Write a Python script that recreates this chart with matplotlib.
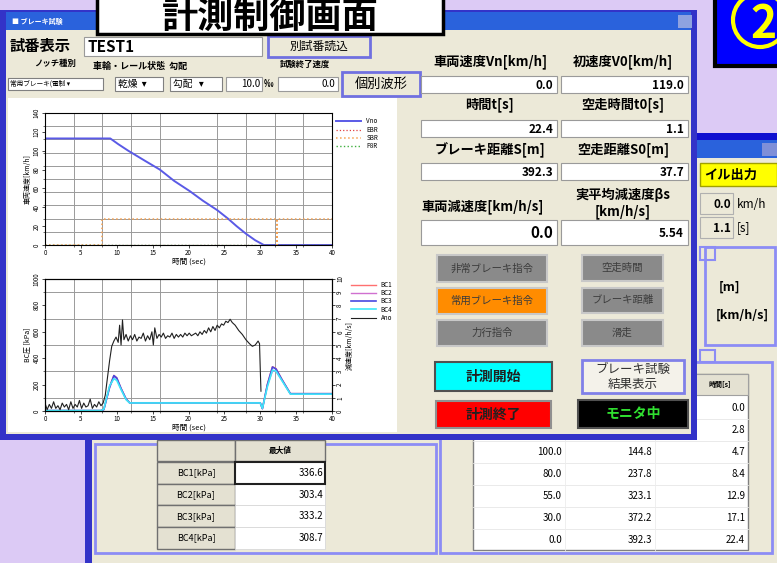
#!/usr/bin/env python3
# Brake test measurement screen (計測制御画面): UI mock-up with the speed
# trace and BC-pressure / deceleration trace, drawn on one pixel-space canvas.
import matplotlib
matplotlib.use("Agg")
import matplotlib.pyplot as plt
from matplotlib.patches import Rectangle, Circle

plt.rcParams["font.family"] = ["Noto Sans CJK JP", "DejaVu Sans"]

W, H = 777, 563

# --- data --------------------------------------------------------------
SPEED_T = [0.0, 9.1, 10.2, 11.6, 14.0, 16.0, 18.0, 20.2, 22.0, 24.0, 25.5, 26.7, 28.0, 29.3, 30.5, 40.0]
SPEED_V = [113, 113, 107, 100, 89, 80, 68, 57, 47, 37, 28, 20, 12, 5, 0, 0]
SBR_T = [0, 8.0, 8.0, 32.3, 32.3, 32.3, 40]
SBR_V = [0, 0, 28, 28, 0, 28, 28]

BC_T = [0, 7.8, 8.2, 9.0, 9.6, 10.0, 10.6, 11.3, 11.8, 30.0, 30.3, 31.0, 31.7, 32.2, 33.0, 34.2, 40]
BC1 = [3, 3, 12, 185, 270, 252, 172, 92, 62, 62, 18, 205, 336, 322, 242, 132, 132]
BC2 = [3, 3, 10, 175, 262, 245, 168, 90, 61, 61, 18, 195, 303, 300, 235, 130, 130]
BC3 = [3, 3, 11, 180, 268, 250, 170, 91, 62, 62, 18, 200, 333, 318, 240, 131, 131]
BC4 = [3, 3, 14, 190, 245, 232, 162, 86, 61, 61, 20, 185, 309, 302, 232, 128, 128]

ANO_T = [0.0, 0.3, 0.6, 0.9, 1.2, 1.5, 1.8, 2.1, 2.4, 2.7, 3.0, 3.3, 3.6, 3.9, 4.2,
         4.5, 4.8, 5.1, 5.4, 5.7, 6.0, 6.3, 6.6, 6.9, 7.2, 7.5, 7.8, 8.1,
         8.4, 8.7, 9.0, 9.3, 9.6, 9.9, 10.2, 10.4, 10.6, 10.8, 11.0, 11.3, 11.6,
         11.9, 12.2, 12.5, 12.8, 13.1, 13.4, 13.7, 14.0, 14.3, 14.6, 14.9, 15.1,
         15.3, 15.6, 15.9, 16.2, 16.5, 16.8, 17.1, 17.4, 17.7, 18.0, 18.3, 18.6,
         18.9, 19.2, 19.5, 19.8, 20.1, 20.4, 20.7, 21.0, 21.3, 21.6, 21.9, 22.2,
         22.5, 22.8, 23.1, 23.4, 23.7, 24.0, 24.3, 24.6, 24.9, 25.2, 25.5, 25.8,
         26.1, 26.5, 27.0, 27.5, 28.0, 28.5, 28.9, 29.3, 29.7, 29.9, 30.0, 30.1]
ANO_V = [0.6, 0.1, 0.5, 0.2, 0.7, 0.2, 0.4, 0.1, 0.6, 0.3, 0.5, 0.1, 0.7, 0.2, 0.5,
         0.3, 0.8, 0.2, 0.6, 0.3, 0.4, 0.9, 0.2, 0.5, 0.3, 0.7, 0.4, 0.6,
         1.2, 2.5, 3.8, 4.9, 5.3, 5.6, 5.2, 6.5, 5.0, 6.9, 5.4, 5.8, 5.3,
         5.7, 5.4, 5.8, 5.3, 5.6, 5.5, 5.9, 5.3, 5.7, 5.4, 6.0, 5.0,
         6.3, 5.5, 5.8, 5.6, 5.9, 5.5, 5.7, 5.6, 5.9, 5.5, 5.8, 5.6,
         5.8, 5.6, 5.9, 5.7, 5.9, 5.7, 5.8, 5.9, 5.7, 6.0, 5.8, 6.1,
         5.9, 6.3, 6.0, 6.4, 6.1, 6.5, 6.3, 6.6, 6.5, 6.8, 6.7, 6.95,
         6.7, 6.5, 6.1, 5.8, 5.4, 5.1, 4.9, 5.0, 5.3, 5.1, 3.2, 1.5]

BC_NAMES = ["BC1[kPa]", "BC2[kPa]", "BC3[kPa]", "BC4[kPa]"]
BC_MAX = ["336.6", "303.4", "333.2", "308.7"]

RES_SPEED = ["", "", "100.0", "80.0", "55.0", "30.0", "0.0"]
RES_DIST = ["", "", "144.8", "237.8", "323.1", "372.2", "392.3"]
RES_TIME = ["0.0", "2.8", "4.7", "8.4", "12.9", "17.1", "22.4"]

# --- colours -----------------------------------------------------------
LAV = "#dccaf5"
BEIGE = "#ece9d8"
WBLUE = "#3333c8"
TBAR = "#2a62dc"
PANEL = "#8c8cf5"
GREYBTN = "#8a8a8a"

fig = plt.figure(figsize=(W / 100, H / 100), dpi=100)
bg = fig.add_axes([0, 0, 1, 1])
bg.set_xlim(0, W); bg.set_ylim(H, 0); bg.axis("off")


def box(x0, y0, x1, y1, fc, ec="none", lw=1.0, z=1):
    bg.add_patch(Rectangle((x0, y0), x1 - x0, y1 - y0, facecolor=fc,
                           edgecolor=ec, linewidth=lw, zorder=z))


def txt(x, y, s, size=8, ha="center", color="black", weight="bold", z=8, **kw):
    bg.text(x, y, s, fontsize=size, ha=ha, va="center", color=color,
            fontweight=weight, zorder=z, **kw)


def field(x0, y0, x1, y1, val, size=8.5, z=7):
    box(x0, y0, x1, y1, "white", "#9a9a9a", 0.8, z=z)
    txt(x1 - 4, (y0 + y1) / 2 + 1, val, size=size, ha="right", z=z + 1)


def button(x0, y0, x1, y1, s, fc, tc="#3c3c3c", ec="#c8c8c8", size=7.5,
           weight="normal", lw=1.5, z=7):
    box(x0, y0, x1, y1, fc, ec, lw, z=z)
    txt((x0 + x1) / 2, (y0 + y1) / 2, s, size=size, color=tc, weight=weight, z=z + 1)


# background
box(0, 0, W, H, LAV, z=0)

# bottom window (behind)
box(85, 436, W, H, BEIGE, z=1)
box(85, 436, 92, H, WBLUE, z=1)
box(95, 444, 436, 553, "none", PANEL, 2.0, z=2)
box(440, 362, 772, 553, BEIGE, PANEL, 2.0, z=2)
# right window (behind)
box(697, 133, W, H, BEIGE, z=1)
box(697, 133, W, 140, "#1010d0", z=1)
box(697, 140, W, 158, TBAR, z=1)
box(762, 143, 777, 156, "#7f8fd8", z=2)
box(700, 163, W, 186, "#ffff00", "#a0a000", 1.0, z=2)
txt(704, 175, "イル出力", size=9.5, ha="left", z=3)
box(700, 193, 733, 214, BEIGE, "#b0b0b0", 0.8, z=2)
txt(731, 205, "0.0", size=8.5, ha="right", z=3)
txt(737, 205, "km/h", size=8.5, ha="left", weight="normal", z=3)
box(700, 217, 733, 238, BEIGE, "#b0b0b0", 0.8, z=2)
txt(731, 228, "1.1", size=8.5, ha="right", z=3)
txt(737, 228, "[s]", size=8.5, ha="left", weight="normal", z=3)
box(705, 247, 775, 345, "none", PANEL, 2.0, z=2)
box(700, 247, 715, 260, "none", PANEL, 1.5, z=2)
txt(730, 287, "[m]", size=9, z=3)
txt(742, 315, "[km/h/s]", size=9, z=3)
box(700, 350, 715, 362, "none", PANEL, 1.5, z=2)

# bottom-left table of maxima
box(157, 440, 235, 461, "#e4e1d2", "#707070", 1.0, z=3)
box(235, 440, 325, 461, "#e4e1d2", "#707070", 1.0, z=3)
txt(280, 450, "最大値", size=5.5, z=4)
for i, (name, val) in enumerate(zip(BC_NAMES, BC_MAX)):
    y0 = 462 + i * 21.7
    box(157, y0, 235, y0 + 21.7, "#e4e1d2", "#707070", 1.0, z=3)
    box(235, y0, 325, y0 + 21.7, "white", "#d8d8d8", 0.6, z=3)
    txt(196, y0 + 11, name, size=6.5, weight="normal", z=4)
    txt(323, y0 + 11, val, size=7, ha="right", weight="normal", z=4)
box(235, 462, 325, 483.7, "none", "#202020", 1.5, z=4)

# bottom-right result table
box(473, 374, 748, 550, "white", "#808080", 1.0, z=3)
box(690, 374, 748, 395, "#e4e1d2", "#a0a0a0", 0.8, z=3)
txt(720, 385, "時間[s]", size=5, z=4)
for i in range(7):
    yc = 408 + i * 22
    bg.plot([473, 748], [yc + 11, yc + 11], color="#e6e6e6", lw=0.6, zorder=4)
    txt(562, yc, RES_SPEED[i], size=7, ha="right", weight="normal", z=4)
    txt(652, yc, RES_DIST[i], size=7, ha="right", weight="normal", z=4)
    txt(745, yc, RES_TIME[i], size=7, ha="right", weight="normal", z=4)
for xc in [565, 655]:
    bg.plot([xc, xc], [396, 550], color="#ececec", lw=0.6, zorder=4)

# main window
box(0, 10, 697, 440, WBLUE, z=5)
box(6, 30, 691, 434, BEIGE, z=5)
box(6, 12, 691, 30, TBAR, z=5)
box(678, 15, 692, 28, "#8ea2e0", z=5)
txt(12, 21, "■ ブレーキ試験", size=5, ha="left", color="white", z=6)
box(8, 98, 397, 432, "white", z=5)

# header rows
txt(10, 46, "試番表示", size=11, ha="left")
box(84, 37, 262, 56, "white", "#9a9a9a", 0.8, z=6)
txt(87, 47, "TEST1", size=11, ha="left")
button(268, 36, 370, 57, "別試番読込", BEIGE, tc="black", ec="#7070e0", size=8.5, lw=2)
txt(55, 63, "ノッチ種別", size=6)
txt(140, 66, "車輪・レール状態  勾配", size=6.5)
txt(305, 64, "試験終了速度", size=6)
box(8, 78, 103, 90, "white", "#808080", 0.8, z=6)
txt(10, 84, "常用ブレーキ(電制 ▾", size=4.8, ha="left", weight="normal")
box(115, 77, 163, 91, "white", "#808080", 0.8, z=6)
txt(118, 84, "乾燥  ▾", size=7, ha="left", weight="normal")
box(170, 77, 222, 91, "white", "#808080", 0.8, z=6)
txt(173, 84, "勾配   ▾", size=7, ha="left", weight="normal")
box(226, 77, 262, 91, "white", "#9a9a9a", 0.8, z=6)
txt(260, 84, "10.0", size=7, ha="right", weight="normal")
txt(264, 84, "‰", size=7, ha="left")
box(278, 77, 338, 91, "white", "#9a9a9a", 0.8, z=6)
txt(335, 84, "0.0", size=7, ha="right", weight="normal")
button(342, 72, 420, 96, "個別波形", BEIGE, tc="black", ec="#7070e0", size=9.5, lw=2)

# right-hand readouts
txt(490, 62, "車両速度Vn[km/h]", size=9.5)
txt(623, 62, "初速度V0[km/h]", size=9.5)
txt(490, 105, "時間t[s]", size=9.5)
txt(623, 105, "空走時間t0[s]", size=9.5)
txt(490, 150, "ブレーキ距離S[m]", size=9.5)
txt(623, 150, "空走距離S0[m]", size=9.5)
txt(483, 207, "車両減速度[km/h/s]", size=9.5)
txt(623, 195, "実平均減速度βs", size=9.5)
txt(623, 212, "[km/h/s]", size=9.5)
field(421, 76, 557, 93, "0.0")
field(561, 76, 688, 93, "119.0")
field(421, 120, 557, 137, "22.4")
field(561, 120, 688, 137, "1.1")
field(421, 163, 557, 180, "392.3")
field(561, 163, 688, 180, "37.7")
field(421, 220, 557, 245, "0.0", size=11)
field(561, 220, 688, 245, "5.54")

button(437, 255, 547, 282, "非常ブレーキ指令", GREYBTN)
button(582, 255, 663, 281, "空走時間", GREYBTN)
button(437, 288, 547, 314, "常用ブレーキ指令", "#ff8c00")
button(582, 288, 663, 313, "ブレーキ距離", GREYBTN)
button(437, 320, 547, 346, "力行指令", GREYBTN)
button(582, 320, 663, 346, "滑走", GREYBTN)
button(435, 362, 552, 391, "計測開始", "#00ffff", tc="#202020", ec="#505050", size=10, weight="bold")
box(582, 360, 684, 393, "#f4f2ea", "#8080e8", 2.0, z=7)
txt(633, 369, "ブレーキ試験", size=9, weight="normal", color="#303030")
txt(633, 384, "結果表示", size=9, weight="normal", color="#303030")
button(436, 401, 551, 428, "計測終了", "#ff0000", tc="#202020", ec="#909090", size=10, weight="bold")
button(578, 400, 688, 428, "モニタ中", "#000000", tc="#30e030", ec="#505050", size=10, weight="bold")

# title box and badge
box(97, -5, 443, 34, "white", "black", 2.5, z=9)
txt(270, 17, "計測制御画面", size=26, z=10)
box(715, -5, W + 5, 66, "#0000ff", "black", 3, z=9)
bg.add_patch(Circle((760, 20), 27, facecolor="none", edgecolor="#ffff00", lw=3, zorder=10))
txt(764, 25, "2", size=32, color="#ffff00", z=10)

# --- plots -------------------------------------------------------------
TICK = dict(labelsize=4.5, length=2, width=0.5, pad=1)


def setup(ax, ymax, ystep, ygrid):
    ax.set_xlim(0, 40); ax.set_ylim(0, ymax)
    ax.set_xticks(range(0, 41, 5))
    ax.set_xticks(range(0, 41, 4), minor=True)
    ax.set_yticks(range(0, ymax + 1, ystep))
    ax.set_yticks([ygrid * k for k in range(11)], minor=True)
    ax.grid(which="minor", color="#9a9a9a", lw=0.7)
    ax.tick_params(axis="both", which="major", **TICK)
    ax.tick_params(axis="both", which="minor", length=1.2, width=0.4)
    for lbl in ax.get_yticklabels():
        lbl.set_rotation(90); lbl.set_va("center")
    for s in ax.spines.values():
        s.set_linewidth(0.8)
    ax.set_xlabel("時間 (sec)", fontsize=5.5, labelpad=0)


ax1 = fig.add_axes([45 / W, 1 - 245 / H, 287 / W, 132 / H])
setup(ax1, 140, 20, 14)
ax1.set_ylabel("車両速度[km/h]", fontsize=5, labelpad=1)
ax1.plot(SPEED_T, SPEED_V, color="#5a5ae6", lw=1.4, label="Vno")
ax1.plot([0, 40], [0, 0], color="#e04040", lw=0.9, ls=":", label="EBR")
ax1.plot(SBR_T, SBR_V, color="#f5a050", lw=1.1, ls=":", label="SBR")
ax1.plot([0, 40], [0, 0], color="#40b040", lw=1.0, ls=":", label="P8R")
ax1.legend(loc="upper left", bbox_to_anchor=(1.0, 1.0), fontsize=4.5, frameon=False,
           handlelength=4, labelspacing=0.05, borderaxespad=0.3)

ax2 = fig.add_axes([45 / W, 1 - 411 / H, 287 / W, 132 / H])
setup(ax2, 1000, 200, 100)
ax2.set_ylabel("BC圧 [kPa]", fontsize=5, labelpad=1)
ax3 = ax2.twinx()
ax3.set_ylim(0, 10)
ax3.set_yticks(range(0, 11))
ax3.tick_params(axis="y", **TICK)
for lbl in ax3.get_yticklabels():
    lbl.set_rotation(90); lbl.set_va("center")
ax3.set_ylabel("減速度[km/h/s]", fontsize=5, labelpad=1)
l1, = ax2.plot(BC_T, BC1, color="#ff7070", lw=1.0, label="BC1")
l2, = ax2.plot(BC_T, BC2, color="#d070d0", lw=1.0, label="BC2")
l3, = ax2.plot(BC_T, BC3, color="#4848e0", lw=1.2, label="BC3")
l4, = ax2.plot(BC_T, BC4, color="#40e8f8", lw=1.2, label="BC4")
l5, = ax3.plot(ANO_T, ANO_V, color="#202020", lw=0.8, label="Ano")
ax3.legend([l1, l2, l3, l4, l5], ["BC1", "BC2", "BC3", "BC4", "Ano"], loc="upper left",
           bbox_to_anchor=(1.05, 1.02), fontsize=4.5, frameon=False,
           handlelength=4, labelspacing=0.05, borderaxespad=0.3)

fig.savefig("out.png", dpi=100)
